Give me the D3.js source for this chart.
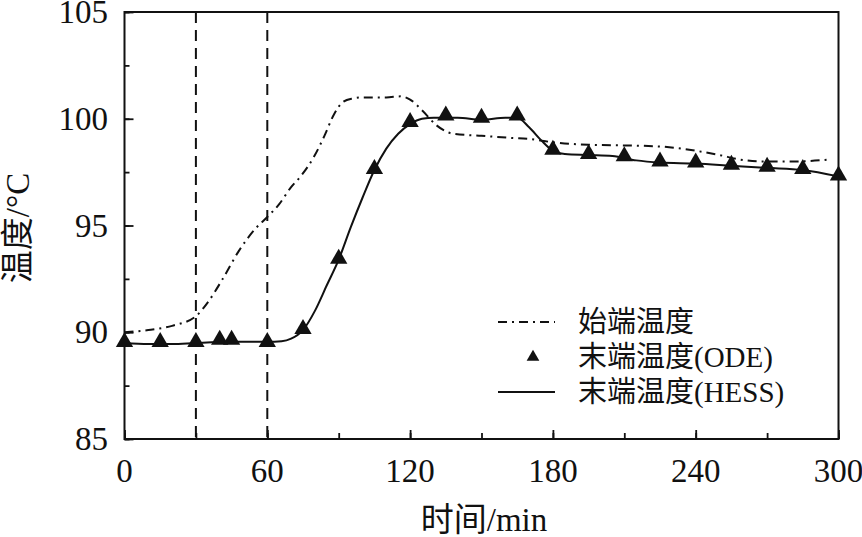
<!DOCTYPE html>
<html>
<head>
<meta charset="utf-8">
<script src="https://cdn.jsdelivr.net/npm/d3@7"></script>
<style>
  body { margin: 0; background: #fff; }
  svg text { font-family: "Liberation Serif", "Times New Roman", "Noto Sans CJK SC", serif; fill: #111; }
</style>
</head>
<body>
<div id="chart"></div>
<script>
// start temperature (dash-dot line)
var startT = [0,10,20,30,35,41,48,55,60,65,70,74,80,84,88,92,96,100,110,116,120,125,131,138,150,163,170,180,195,210,225,240,250,258,268,282,297];
var startV = [90.0,90.1,90.3,90.75,91.4,92.45,93.8,94.85,95.4,96.0,96.8,97.3,98.3,99.2,100.2,100.8,100.95,101.0,101.0,101.05,100.9,100.4,99.7,99.3,99.2,99.1,99.05,98.9,98.78,98.75,98.7,98.5,98.3,98.1,98.0,98.0,98.1];

// end temperature, ODE (triangles)
var odeT = [0,15,30,40,45,60,75,90,105,120,135,150,165,180,195,210,225,240,255,270,285,300];
var odeV = [89.5,89.5,89.5,89.6,89.6,89.5,90.1,93.4,97.6,99.8,100.1,100.0,100.1,98.5,98.3,98.2,97.95,97.9,97.8,97.7,97.6,97.3];

// end temperature, HESS (solid line)
var hessT = [0,10,20,30,45,60,66,70,75,80,85,90,95,100,105,110,115,120,125,130,140,150,160,165,170,175,180,185,195,205,215,225,240,255,270,285,300];
var hessV = [89.5,89.45,89.45,89.5,89.55,89.55,89.58,89.7,90.1,91.0,92.2,93.4,94.9,96.3,97.6,98.6,99.3,99.75,100.0,100.05,100.05,99.95,100.05,100.05,99.6,99.0,98.5,98.35,98.3,98.25,98.05,97.95,97.9,97.8,97.7,97.6,97.3];

var markTimes = [30, 60];
var xTicks = [0,60,120,180,240,300];
var yTicks = [85,90,95,100,105];
var legendNames = ["始端温度", "末端温度(ODE)", "末端温度(HESS)"];

var W = 862, H = 537;
var pLeft = 124.5, pRight = 838.5, pTop = 12, pBottom = 439;

var svg = d3.select("#chart").append("svg")
  .attr("width", W).attr("height", H);

var x = d3.scaleLinear().domain([0,300]).range([pLeft,pRight]);
var y = d3.scaleLinear().domain([85,105]).range([pBottom,pTop]);

function pairs(ts, vs) { return ts.map(function(t,i){ return [t, vs[i]]; }); }

var line = d3.line()
  .x(function(d){ return x(d[0]); })
  .y(function(d){ return y(d[1]); })
  .curve(d3.curveMonotoneX);

// vertical dashed marks
svg.append("g").selectAll("line")
  .data(markTimes).enter().append("line")
  .attr("x1", function(d){ return x(d); }).attr("x2", function(d){ return x(d); })
  .attr("y1", pTop).attr("y2", pBottom)
  .attr("stroke", "#111").attr("stroke-width", 2)
  .attr("stroke-dasharray", "11,7");

// axes with inward ticks
var xMinor = d3.range(0, 301, 30);
var yMinor = d3.range(85, 105.1, 2.5);

function tickStyle(g) {
  g.select(".domain").remove();
  g.selectAll("line").attr("stroke", "#111").attr("stroke-width", 1.8);
}

svg.append("g").attr("transform", "translate(0," + pBottom + ")")
  .call(d3.axisTop(x).tickValues(xMinor).tickSize(6).tickFormat(""))
  .call(tickStyle);
svg.append("g").attr("transform", "translate(0," + pBottom + ")")
  .call(d3.axisTop(x).tickValues(xTicks).tickSize(9).tickFormat(""))
  .call(tickStyle);

svg.append("g").attr("transform", "translate(" + pLeft + ",0)")
  .call(d3.axisRight(y).tickValues(yMinor).tickSize(5).tickFormat(""))
  .call(tickStyle);
svg.append("g").attr("transform", "translate(" + pLeft + ",0)")
  .call(d3.axisRight(y).tickValues(yTicks).tickSize(9).tickFormat(""))
  .call(tickStyle);

// tick labels
svg.append("g").selectAll("text")
  .data(xTicks).enter().append("text")
  .attr("x", function(d){ return x(d); })
  .attr("y", 482)
  .attr("text-anchor", "middle")
  .style("font-size", "33px")
  .text(function(d){ return d; });

svg.append("g").selectAll("text")
  .data(yTicks).enter().append("text")
  .attr("x", 108)
  .attr("y", function(d){ return y(d) + 11; })
  .attr("text-anchor", "end")
  .style("font-size", "33px")
  .text(function(d){ return d; });

// frame
svg.append("rect")
  .attr("x", pLeft).attr("y", pTop)
  .attr("width", pRight - pLeft).attr("height", pBottom - pTop)
  .attr("fill", "none").attr("stroke", "#111").attr("stroke-width", 2);

// series
svg.append("path")
  .datum(pairs(startT, startV))
  .attr("d", line)
  .attr("fill", "none").attr("stroke", "#111").attr("stroke-width", 2)
  .attr("stroke-dasharray", "9,5,2,5");

svg.append("path")
  .datum(pairs(hessT, hessV))
  .attr("d", line)
  .attr("fill", "none").attr("stroke", "#111").attr("stroke-width", 2);

var tri = d3.symbol().type(d3.symbolTriangle).size(130);
svg.append("g").selectAll("path")
  .data(pairs(odeT, odeV)).enter().append("path")
  .attr("transform", function(d){ return "translate(" + x(d[0]) + "," + (y(d[1]) - 1) + ")"; })
  .attr("d", tri)
  .attr("fill", "#111");

// axis titles
svg.append("text")
  .attr("x", 484).attr("y", 531)
  .attr("text-anchor", "middle")
  .style("font-size", "33px")
  .text("时间/min");

svg.append("text")
  .attr("transform", "translate(29,228) rotate(-90)")
  .attr("text-anchor", "middle")
  .style("font-size", "33px")
  .text("温度/°C");

// legend
var lg = svg.append("g");
var rows = [322, 357, 392];
lg.append("line").attr("x1", 498).attr("x2", 555).attr("y1", rows[0]).attr("y2", rows[0])
  .attr("stroke", "#111").attr("stroke-width", 2).attr("stroke-dasharray", "9,5,2,5");
lg.append("path").attr("transform", "translate(533," + rows[1] + ")")
  .attr("d", d3.symbol().type(d3.symbolTriangle).size(70)).attr("fill", "#111");
lg.append("line").attr("x1", 498).attr("x2", 555).attr("y1", rows[2]).attr("y2", rows[2])
  .attr("stroke", "#111").attr("stroke-width", 2);

lg.selectAll("text")
  .data(legendNames).enter().append("text")
  .attr("x", 578)
  .attr("y", function(d, i){ return rows[i] + 10; })
  .style("font-size", "29px")
  .text(function(d){ return d; });
</script>
</body>
</html>
